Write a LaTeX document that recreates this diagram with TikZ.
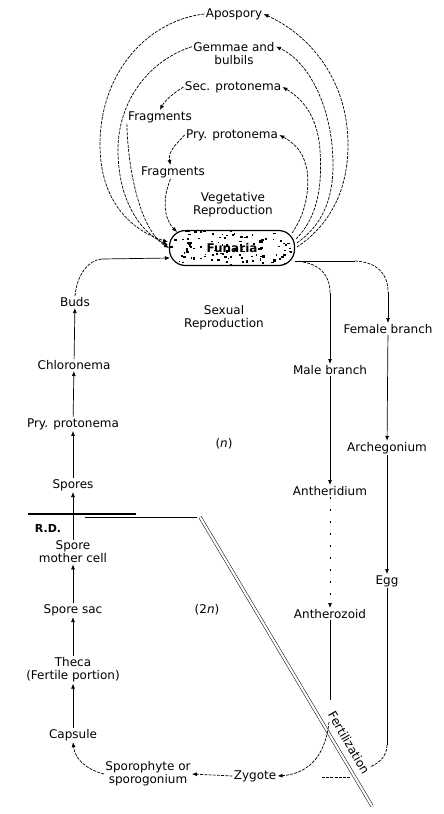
\documentclass[tikz,border=0pt]{standalone}
\usepackage{fontspec}
\setmainfont{DejaVu Sans}
\usetikzlibrary{arrows.meta,calc}
\begin{document}
\begin{tikzpicture}[x=1pt,y=-1pt,line width=0.7pt,
  lbl/.style={font=\fontsize{12}{13}\selectfont, inner sep=1pt, align=center},
  arr/.style={-{Latex[length=5pt,width=4pt]}},
  dcurve/.style={dash pattern=on 3pt off 1.2pt},
  funbox/.style={draw, line width=1.2pt, rounded corners=16pt, minimum width=125pt,
    minimum height=35pt, inner sep=0pt, font=\bfseries\fontsize{12}{13}\selectfont,
    path picture={\pgfmathsetseed{7}
      \foreach \i in {1,...,120}{
        \fill[black, sharp corners] ($(path picture bounding box.north west)+(rnd*125pt,-rnd*35pt)$)
          rectangle ++(1.2pt+rnd*2pt,1pt+rnd*1.5pt);}}}]
\useasboundingbox (0,0) rectangle (444,814);

% ---------- Funaria ----------
\node[funbox] (fun) at (232,248) {Funaria};
\coordinate (fL1) at (168,242);
\coordinate (fL2) at (168,245);
\coordinate (fL3) at (169,248);
\coordinate (fL4) at (177,232);
\coordinate (fL5) at (170,258);
\coordinate (fR1) at (297,247);
\coordinate (fR2) at (297,243);
\coordinate (fR3) at (296,239);
\coordinate (fR4) at (292,233);
\coordinate (fR5) at (295,261);

% ---------- vegetative labels ----------
\node[lbl] (apo) at (234,14) {Apospory};
\node[lbl] (gem) at (234,54) {Gemmae and\\bulbils};
\node[lbl] (sec) at (233,87) {Sec. protonema};
\node[lbl] (frag1) at (160,117) {Fragments};
\node[lbl] (pry) at (232,135) {Pry. protonema};
\node[lbl] (frag2) at (173,172) {Fragments};
\node[lbl] (veg) at (233,205) {Vegetative\\Reproduction};

% ---------- vegetative loops ----------
\draw[arr,dcurve] (apo.west) .. controls (150,20) and (100,70) .. (100,145)
  .. controls (100,200) and (130,230) .. (fL1);
\draw[arr,dcurve] (fR1) .. controls (330,225) and (348,190) .. (348,145)
  .. controls (348,80) and (310,35) .. (apo.east);

\draw[arr,dcurve] (gem.170) .. controls (150,60) and (118,100) .. (118,150)
  .. controls (118,200) and (140,232) .. (fL2);
\draw[arr,dcurve] (fR2) .. controls (322,225) and (333,200) .. (333,165)
  .. controls (333,110) and (310,62) .. (gem.10);

\draw[arr,dcurve] (sec.west) .. controls (175,92) and (165,100) .. (frag1.north);
\draw[arr,dcurve] (frag1.south west) .. controls (128,170) and (140,230) .. (fL3);
\draw[arr,dcurve] (fR3) .. controls (320,215) and (322,180) .. (320,150)
  .. controls (318,120) and (305,100) .. (sec.east);

\draw[arr,dcurve] (pry.west) .. controls (175,145) and (168,152) .. (frag2.110);
\draw[arr,dcurve] (frag2.250) .. controls (160,205) and (167,222) .. (fL4);
\draw[arr,dcurve] (fR4) .. controls (305,215) and (310,190) .. (307,170)
  .. controls (304,155) and (298,145) .. (pry.east);

% ---------- left column ----------
\node[lbl] (buds) at (75,302) {Buds};
\node[lbl] (sexual) at (224,318) {Sexual\\Reproduction};
\node[lbl] (chl) at (74,365) {Chloronema};
\node[lbl] (pp2) at (73,424) {Pry. protonema};
\node[lbl] (n) at (224,444) {(\textit{n})};
\node[lbl] (spores) at (73,485) {Spores};
\node[lbl,font=\bfseries\fontsize{11}{12}\selectfont] (rd) at (48,528) {R.D.};
\node[lbl] (smc) at (73,552) {Spore\\mother cell};
\node[lbl] (ssac) at (73,610) {Spore sac};
\node[lbl] (twon) at (207,610) {(2\textit{n})};
\node[lbl] (theca) at (73,670) {Theca\\(Fertile portion)};
\node[lbl] (capsule) at (73,735) {Capsule};
\node[lbl] (sporo) at (148,774) {Sporophyte or\\sporogonium};
\node[lbl] (zyg) at (255,776) {Zygote};

\draw[arr] (capsule) -- (theca);
\draw[arr] (theca) -- (ssac);
\draw[arr] (ssac) -- (smc);
\draw[arr] (smc) -- (spores);
\draw[arr] (spores) -- (pp2);
\draw[arr] (pp2) -- (chl);
\draw[arr] (chl) -- (buds);
\draw[dcurve] (buds.north) .. controls (77,275) and (88,260) .. (102,259) coordinate (bb);
\draw[arr] (bb) -- (fL5);

% R.D. line and boundary
\draw[line width=2pt] (28,514) -- (136,514);
\draw (85,517) -- (197,517);
\draw[double, line width=0.5pt, double distance=2.2pt] (200,517) -- (372,806);

% ---------- right side ----------
\node[lbl] (female) at (388,329) {Female branch};
\node[lbl] (male) at (330,370) {Male branch};
\node[lbl] (arch) at (387,448) {Archegonium};
\node[lbl] (anth) at (330,491) {Antheridium};
\node[lbl] (egg) at (387,581) {Egg};
\node[lbl] (antz) at (330,614) {Antherozoid};
\node[lbl, rotate=-60, inner sep=0pt] (fert) at (349,743) {Fertilization};

\coordinate (fb) at (355,261);
\draw (fR5) -- (fb);
\draw[dcurve] (fb) .. controls (375,262) and (388,272) .. (388,292) coordinate (fb2);
\draw[arr] (fb2) -- (female.north);
\coordinate (mb) at (303,262);
\draw[dcurve] (mb) .. controls (320,265) and (330,275) .. (330,293) coordinate (mb2);
\draw[arr] (mb2) -- (male.north);

\draw[arr] (male) -- (anth);
\draw[arr] (female) -- (arch);
\draw[arr] (arch) -- (egg);
\draw[arr, dash pattern=on 2pt off 10pt] (anth) -- (antz);

\coordinate (az1) at (330,700);
\coordinate (az2) at (329,722);
\draw (antz.south) -- (az1);
\draw[arr,dcurve] (az2) .. controls (325,760) and (305,774) .. (zyg.east);

\coordinate (eg1) at (387,745);
\coordinate (eg2) at (370,767);
\draw (egg.south) -- (eg1);
\draw[dcurve] (eg1) .. controls (387,755) and (381,762) .. (eg2);
\coordinate (fz1) at (322,777);
\coordinate (fz2) at (350,777);
\draw[dcurve] (fz1) -- (fz2);

\draw[arr,dcurve] (zyg.west) -- (sporo.east);
\draw[arr,dcurve] (sporo.west) .. controls (88,770) and (75,760) .. (capsule.south);
\end{tikzpicture}
\end{document}
